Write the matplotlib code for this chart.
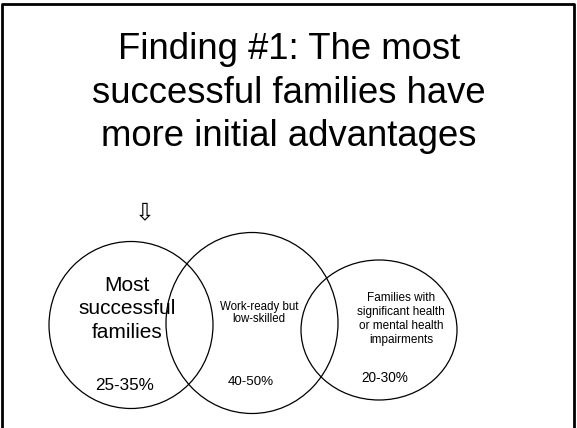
import matplotlib.pyplot as plt
from matplotlib.patches import Ellipse

plt.rcParams['font.family'] = ['Liberation Sans', 'DejaVu Sans']

# slide content
title_lines = ["Finding #1: The most", "successful families have", "more initial advantages"]
groups = ["Most\nsuccessful\nfamilies", "Work-ready but\nlow-skilled",
          "Families with\nsignificant health\nor mental health\nimpairments"]
shares = ["25-35%", "40-50%", "20-30%"]

# layout (pixels on a 577x428 slide)
centers = [(131, 325), (252, 323), (379, 330)]
widths = [164, 172, 156]
heights = [167, 181, 140]
label_pos = [(127, 309), (259, 313), (401, 319)]
label_size = [15, 8.3, 8.5]
label_spacing = [1.3, 1.1, 1.25]
share_pos = [(125, 385), (251, 382), (385, 378)]
share_size = [12.3, 9.6, 9.8]

fig = plt.figure(figsize=(5.77, 4.28), dpi=100)
ax = fig.add_axes([0, 0, 1, 1])
ax.set_xlim(0, 577)
ax.set_ylim(428, 0)
ax.axis('off')

# slide border (no bottom edge)
ax.plot([2, 2, 573.5, 573.5], [428, 4, 4, 428], color='black', lw=2)

for i, line in enumerate(title_lines):
    ax.text(289, 49 + i * 44, line, ha='center', va='center', fontsize=26.3)

for (cx, cy), w, h in zip(centers, widths, heights):
    ax.add_patch(Ellipse((cx, cy), w, h, fill=False, ec='black', lw=0.9))

for g, (x, y), s, ls in zip(groups, label_pos, label_size, label_spacing):
    ax.text(x, y, g, ha='center', va='center', fontsize=s, linespacing=ls)

for p, (x, y), s in zip(shares, share_pos, share_size):
    ax.text(x, y, p, ha='center', va='center', fontsize=s)

ax.text(145, 212, "\u21e9", ha='center', va='center', fontsize=17,
        family=['DejaVu Sans'])

fig.savefig("out.png", dpi=100)
